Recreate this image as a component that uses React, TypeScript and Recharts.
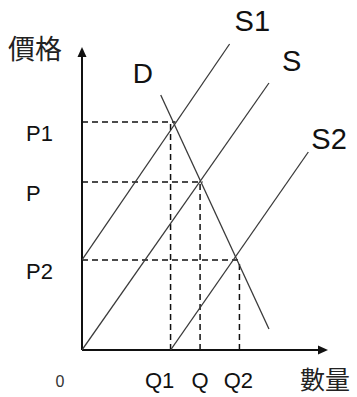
import React from 'react';
import { ComposedChart, Line, XAxis, YAxis, ReferenceLine, ReferenceDot } from 'recharts';

// supply / demand curves, each drawn between two (quantity, price) points
const curveNames = ['S1', 'S', 'S2', 'D'];
const curveQ = [[0, 60], [0, 76], [36, 92], [32, 76]];
const curveP = [[30, 102], [0, 89], [0, 66], [85, 7]];

const priceTicks = [30, 56, 76];
const priceLabels = ['P2', 'P', 'P1'];
const quantityTicks = [0, 36, 48, 64];
const quantityLabels = ['0', 'Q1', 'Q', 'Q2'];

// dashed guides for Q1/P1, Q/P, Q2/P2
const guideQ = [36, 48, 64];
const guideP = [76, 56, 30];
const guideReach = [38, 49, 64];

const FONT = '"Liberation Sans", Arial, sans-serif';
const CJK = '"Noto Sans CJK TC", "Noto Sans CJK SC", sans-serif';

const curves = curveNames.map((name, i) => ({
    name,
    data: curveQ[i].map((q, j) => ({ q, p: curveP[i][j] })),
}));

// where each curve name sits relative to its end point
const labelPlace: Record<string, { at: number; dx: number; dy: number; size: number }> = {
    D: { at: 0, dx: -28, dy: -12, size: 28 },
    S1: { at: 1, dx: 5, dy: -13, size: 29 },
    S: { at: 1, dx: 13, dy: -12, size: 29 },
    S2: { at: 1, dx: 3, dy: -3, size: 29 },
};

const Arrow = (props: any) => {
    const { x1, y1, x2, y2 } = props;
    const len = Math.hypot(x2 - x1, y2 - y1);
    const ux = (x2 - x1) / len;
    const uy = (y2 - y1) / len;
    const bx = x2 - ux * 10;
    const by = y2 - uy * 10;
    const px = -uy * 4.5;
    const py = ux * 4.5;
    return (
        <g>
            <line x1={x1} y1={y1} x2={bx} y2={by} stroke="#111" strokeWidth={2} />
            <polygon points={`${x2},${y2} ${bx + px},${by + py} ${bx - px},${by - py}`} fill="#111" />
        </g>
    );
};

const QTick = ({ x, y, payload }: any) => {
    const label = quantityLabels[quantityTicks.indexOf(payload.value)];
    if (label === '0') {
        return <text x={x - 22} y={y + 37} textAnchor="middle" fontSize={16} fill="#333" fontFamily={FONT}>0</text>;
    }
    const nudge = label === 'Q1' ? -11 : label === 'Q2' ? -1 : 0;
    return <text x={x + nudge} y={y + 38} textAnchor="middle" fontSize={22} fill="#111" fontFamily={FONT}>{label}</text>;
};

const PTick = ({ x, y, payload }: any) => {
    const label = priceLabels[priceTicks.indexOf(payload.value)];
    return <text x={x - 56} y={y + 19} textAnchor="start" fontSize={22} fill="#111" fontFamily={FONT}>{label}</text>;
};

export default function App() {
    return (
        <div style={{ position: 'absolute', left: 0, top: 0, background: '#fff' }}>
            <ComposedChart width={357} height={397} margin={{ top: 20, right: 29, left: 22, bottom: 17 }}>
                <XAxis
                    type="number" dataKey="q" domain={[0, 100]} ticks={quantityTicks} allowDataOverflow
                    axisLine={false} tickLine={false} tickSize={0} tickMargin={0} height={30} tick={<QTick />} interval={0}
                    label={{
                        content: ({ viewBox }: any) => (
                            <text x={viewBox.x + viewBox.width - 3} y={viewBox.y + 39} textAnchor="middle" fontSize={25} fill="#222" fontFamily={CJK}>數量</text>
                        ),
                    }}
                />
                <YAxis
                    type="number" dataKey="p" domain={[0, 110]} ticks={priceTicks} allowDataOverflow
                    axisLine={false} tickLine={false} tickSize={0} tickMargin={0} width={60} tick={<PTick />} interval={0}
                    label={{
                        content: ({ viewBox }: any) => (
                            <text x={viewBox.x + 13} y={viewBox.y + 39} textAnchor="middle" fontSize={27} fill="#222" fontFamily={CJK}>價格</text>
                        ),
                    }}
                />

                {guideQ.map((q, i) => (
                    <ReferenceLine key={`h${i}`} segment={[{ x: 0, y: guideP[i] }, { x: guideReach[i], y: guideP[i] }]} stroke="#111" strokeWidth={1.5} strokeDasharray="6 4" />
                ))}
                {guideQ.map((q, i) => (
                    <ReferenceLine key={`v${i}`} segment={[{ x: q, y: 0 }, { x: q, y: guideP[i] }]} stroke="#111" strokeWidth={1.5} strokeDasharray="6 4" />
                ))}

                <ReferenceLine segment={[{ x: 0, y: 0 }, { x: 0, y: 101 }]} shape={<Arrow />} />
                <ReferenceLine segment={[{ x: 0, y: 0 }, { x: 100, y: 0 }]} shape={<Arrow />} />

                {curves.map(c => (
                    <Line key={c.name} data={c.data} dataKey="p" type="linear" stroke="#3a3a3a" strokeWidth={1.3} dot={false} activeDot={false} isAnimationActive={false} />
                ))}

                {curves.map(c => {
                    const place = labelPlace[c.name];
                    const pt = c.data[place.at];
                    return (
                        <ReferenceDot
                            key={`l${c.name}`} x={pt.q} y={pt.p} r={0} fill="none" stroke="none"
                            label={{
                                content: ({ viewBox }: any) => (
                                    <text x={viewBox.x + place.dx} y={viewBox.y + place.dy} textAnchor="start" fontSize={place.size} fill="#111" fontFamily={FONT}>{c.name}</text>
                                ),
                            }}
                        />
                    );
                })}
            </ComposedChart>
        </div>
    );
}
